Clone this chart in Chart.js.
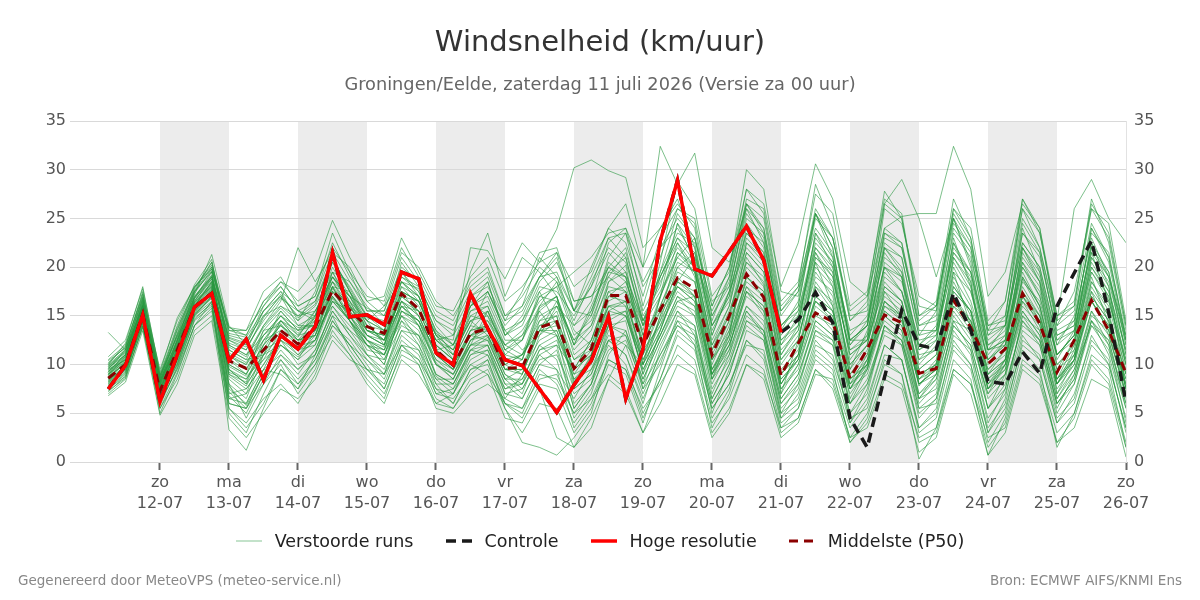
<!DOCTYPE html>
<html><head><meta charset="utf-8">
<script src="https://cdn.jsdelivr.net/npm/chart.js@4.4.1/dist/chart.umd.min.js"></script>
<style>
html,body{margin:0;padding:0;background:#fff;}
#wrap{position:relative;width:1200px;height:600px;overflow:hidden;}
#c{position:absolute;left:0;top:0;}
.foot{position:absolute;top:572px;line-height:16px;font-family:'DejaVu Sans',sans-serif;font-size:13.5px;color:#888;white-space:nowrap;}
#legend{position:absolute;left:0;top:530px;width:1200px;height:22px;display:flex;justify-content:center;align-items:center;font-family:'DejaVu Sans',sans-serif;font-size:17.5px;color:#222;white-space:nowrap;}
#legend .item{display:flex;align-items:center;margin:0 16px;}
#legend svg{margin-right:13px;display:block;}
</style></head><body>
<div id="wrap"><canvas id="c" width="1200" height="600"></canvas>
<div id="legend"></div>
<div class="foot" style="left:18px">Gegenereerd door MeteoVPS (meteo-service.nl)</div>
<div class="foot" style="right:18px">Bron: ECMWF AIFS/KNMI Ens</div>
</div>
<script>
// hours relative to zo 12-07 00:00
const hours = [-18,-12,-6,0,6,12,18,24,30,36,42,48,54,60,66,72,78,84,90,96,102,108,114,120,126,132,138,144,150,156,162,168,174,180,186,192,198,204,210,216,222,228,234,240,246,252,258,264,270,276,282,288,294,300,306,312,318,324,330,336];
const tickHours = [0,24,48,72,96,120,144,168,192,216,240,264,288,312,336];
const dayNames = ['zo','ma','di','wo','do','vr','za','zo','ma','di','wo','do','vr','za','zo'];
const dayDates = ['12-07','13-07','14-07','15-07','16-07','17-07','18-07','19-07','20-07','21-07','22-07','23-07','24-07','25-07','26-07'];
const shadedDayStarts = [0,48,96,144,192,240,288];

const hogeResolutie = [7.5,9.9,15.1,6.2, 11.0,15.9,17.3,10.4, 12.6,8.4,13.0,11.6, 13.9,21.5,14.9,15.1, 14.1,19.5,18.8,11.2, 10.0,17.3,13.7,10.5, 9.9,7.5,5.1,7.9, 10.4,14.9,6.5,11.6, 22.7,28.9,19.8,19.1, 21.6,24.2,20.7,13.3];
const controle = [7.5,9.9,15.1,6.2, 11.0,15.9,17.3,10.4, 12.6,8.4,13.0,11.6, 13.9,21.5,14.9,15.1, 14.1,19.5,18.8,11.2, 10.0,17.3,13.7,10.5, 9.9,7.5,5.1,7.9, 10.4,14.9,6.5,11.6, 22.7,28.9,19.8,19.1, 21.6,24.2,20.7,13.3, 14.6,17.4,14.3,4.5, 1.5,8.7,15.6,12.0, 11.6,17.3,13.5,8.3, 8.0,11.3,9.1,16.0, 19.4,22.7,15.3,6.1];
const middelste = [8.6,10.0,15.1,7.3, 11.5,15.9,17.3,10.4, 9.6,11.5,13.5,12.1, 13.9,17.6,15.6,13.9, 13.2,17.3,15.7,11.5, 9.9,13.2,13.7,9.6, 9.7,13.8,14.4,9.6, 11.6,17.1,17.1,12.0, 15.6,18.9,17.8,11.0, 15.0,19.3,16.9,8.9, 12.2,15.3,14.4,8.6, 11.6,15.1,14.3,9.1, 9.6,16.6,13.8,10.1, 11.6,17.3,14.2,9.2, 12.5,16.6,13.5,9.1];

const run01 = [9.2,11.0,16.5,7.8, 12.0,16.8,19.5,9.0, 8.2,12.5,15.0,13.2, 14.8,19.0,16.2,12.5, 11.8,16.5,14.0,10.2, 8.5,12.0,15.5,11.0, 10.5,15.8,17.0,8.2, 10.8,18.5,20.2,11.5, 16.8,22.5,19.0,8.5, 13.0,21.0,18.2,7.0, 12.5,20.5,16.0,6.5, 9.8,17.5,15.0,7.8, 10.2,19.5,14.0,5.5, 9.0,18.8,15.5,8.0, 11.5,19.0,14.2,6.8];
const run02 = [8.0,9.5,14.5,6.5, 10.8,15.5,17.8,6.0, 5.5,9.0,12.0,10.8, 12.5,16.8,14.5,11.0, 10.5,15.0,13.5,8.8, 7.5,11.5,12.8,8.5, 7.0,11.5,12.0,5.5, 8.0,13.5,15.0,9.5, 13.0,17.0,16.0,7.5, 10.5,15.5,13.0,5.0, 8.0,13.0,12.0,4.0, 7.5,14.0,12.5,5.5, 6.0,13.5,11.0,3.0, 6.5,15.0,12.5,6.0, 8.5,14.5,11.0,4.5];
const run03 = [10.2,11.8,17.5,8.5, 13.5,17.5,20.0,12.5, 11.8,14.5,16.8,15.5, 16.5,21.0,17.5,14.5, 13.5,18.0,17.0,13.0, 12.5,22.0,21.7,18.8, 22.5,20.5,23.9,30.2, 31.0,29.9,29.2,22.0, 24.0,26.5,24.0,14.0, 17.5,22.0,20.0,12.0, 15.0,21.5,18.0,9.5, 13.5,20.0,17.5,12.0, 14.0,22.5,18.5,10.0, 12.5,20.5,17.0,11.0, 13.0,20.0,17.0,9.0];
const run04 = [9.5,10.5,15.8,8.0, 11.8,16.0,18.5,10.8, 10.0,13.5,14.0,12.8, 15.5,18.5,17.0,15.8, 15.0,19.5,17.5,13.5, 11.0,14.5,15.0,12.0, 13.5,16.5,18.0,19.5, 21.0,23.5,24.0,20.0, 32.4,28.5,31.7,22.0, 20.5,26.0,22.5,14.0, 15.5,22.0,19.5,11.0, 12.5,18.0,16.5,9.5, 11.0,18.5,15.0,8.0, 10.5,19.0,16.0,8.5, 12.0,21.5,16.5,10.0];
const run05 = [7.0,8.5,14.0,5.0, 9.0,14.0,16.5,3.3, 1.2,5.5,9.5,7.5, 10.0,14.5,12.0,9.5, 8.0,12.5,11.0,7.0, 6.5,9.0,10.5,6.0, 4.5,8.0,7.5,3.0, 5.5,10.0,9.0,4.0, 9.5,14.5,12.0,5.5, 8.0,12.0,11.5,4.0, 5.5,10.5,9.0,3.5, 6.0,12.0,10.5,3.0, 4.5,11.5,9.5,2.0, 5.0,12.5,11.0,4.5, 6.5,13.0,10.0,3.5];
const run06 = [8.8,10.2,15.2,7.0, 11.2,16.2,18.2,11.5, 10.5,11.0,14.2,12.0, 13.0,17.8,15.8,14.0, 12.5,17.0,15.5,11.5, 10.0,13.5,14.0,10.0, 9.0,14.5,15.0,9.5, 12.5,17.5,18.0,12.5, 15.5,19.5,18.5,10.5, 14.5,19.0,17.0,9.0, 12.0,16.5,15.0,8.0, 11.0,16.5,14.5,8.5, 9.5,17.0,14.5,9.5, 11.5,17.5,14.5,9.0, 12.5,16.5,13.5,8.5];
const run07 = [9.8,11.2,16.0,8.8, 13.0,17.2,21.3,14.0, 12.0,15.5,17.5,14.5, 16.0,19.5,18.5,16.0, 14.0,20.5,18.0,14.5, 13.0,16.0,17.5,13.5, 11.5,13.0,16.0,14.0, 16.5,22.5,24.0,18.0, 21.0,26.0,25.0,16.5, 18.0,25.5,23.0,13.5, 16.5,25.5,22.0,12.0, 14.5,22.0,21.0,13.0, 15.5,25.0,20.5,11.5, 14.0,24.0,19.5,12.0, 15.0,23.0,19.0,12.5];
const run08 = [7.5,9.0,14.8,6.0, 10.5,15.0,17.0,8.0, 4.5,8.0,11.0,9.0, 11.5,15.5,13.0,10.5, 9.0,14.5,12.0,7.5, 7.0,10.5,11.5,7.5, 8.5,12.0,10.5,4.5, 7.0,12.5,11.0,6.0, 11.5,15.5,14.0,5.0, 9.5,14.0,12.5,4.5, 7.0,12.5,10.5,5.0, 8.0,13.0,12.0,4.5, 6.5,14.5,11.5,4.0, 7.5,14.5,12.0,5.5, 9.0,15.5,12.0,4.0];
const run09 = [10.5,12.0,17.0,9.5, 14.5,18.0,19.8,13.5, 13.0,16.5,18.5,16.5, 18.0,22.0,19.5,17.0, 16.5,22.0,19.0,15.5, 14.5,18.5,20.0,15.0, 16.0,19.0,21.5,18.0, 19.5,24.0,26.5,20.0, 24.0,27.0,22.0,14.5, 19.0,28.0,25.5,16.0, 18.0,28.5,24.0,14.5, 16.0,26.5,25.0,15.0, 16.5,27.0,23.0,13.0, 15.0,26.0,22.0,14.5, 16.0,27.0,22.5,13.5];
const run10 = [8.2,9.8,15.5,7.5, 11.0,15.8,17.5,7.0, 7.5,10.0,12.5,11.5, 12.0,17.5,15.0,12.5, 11.5,16.0,14.5,10.0, 9.0,12.5,13.0,9.0, 8.0,13.0,14.5,8.0, 11.0,16.5,17.5,10.0, 15.0,18.5,17.5,9.5, 12.0,17.5,16.0,7.5, 10.0,15.0,14.0,6.0, 9.5,15.5,14.0,7.0, 8.5,16.0,13.5,6.5, 8.5,16.5,13.5,7.5, 10.0,17.5,13.0,7.0];
const run11 = [9.0,10.8,16.2,7.2, 12.5,16.5,19.0,10.0, 9.0,12.0,15.5,13.5, 14.0,19.5,16.5,13.0, 12.0,18.0,16.0,12.0, 10.5,15.5,16.5,12.5, 12.5,17.5,19.0,14.0, 15.5,20.0,22.0,15.0, 18.0,24.5,20.5,12.0, 16.0,23.0,21.0,11.0, 14.0,23.5,20.0,10.5, 13.0,21.5,19.0,10.0, 12.0,23.0,18.0,9.0, 11.5,22.0,18.5,10.5, 13.5,22.5,18.0,10.0];
const run12 = [7.8,9.2,14.2,5.8, 9.8,14.5,16.0,5.0, 3.0,7.0,10.5,8.5, 10.5,14.0,12.5,10.0, 7.5,12.0,10.5,6.5, 5.5,8.5,9.5,5.5, 3.0,6.0,5.5,1.5, 4.5,8.5,7.0,3.0, 7.5,12.0,10.5,4.0, 6.5,11.0,9.5,3.0, 4.5,9.5,7.5,2.0, 4.0,9.0,8.0,2.5, 3.5,9.5,8.0,1.5, 4.0,10.5,9.0,3.0, 5.0,10.5,8.5,2.0];
const run13 = [9.5,11.5,16.8,8.2, 13.2,17.8,20.5,13.0, 12.5,15.0,16.0,14.5, 17.5,23.5,19.5,15.5, 15.5,21.0,18.5,14.0, 12.0,17.0,18.0,14.5, 17.5,21.5,22.0,16.5, 17.0,19.0,17.5,13.5, 20.5,28.8,26.0,17.0, 19.5,30.0,28.0,17.5, 17.0,25.5,21.0,12.5, 14.0,26.0,24.5,17.0, 16.0,25.0,20.0,12.0, 13.5,24.5,21.5,13.0, 14.0,24.0,20.5,12.0];
const run14 = [8.5,9.5,14.0,6.8, 10.0,15.2,16.8,9.5, 8.5,11.0,12.0,10.5, 13.5,16.0,14.0,12.0, 10.0,15.5,14.0,9.0, 8.0,11.0,12.0,8.0, 6.5,10.0,9.5,6.5, 9.5,14.0,13.5,8.5, 12.5,16.0,15.0,7.0, 11.0,16.0,14.0,6.5, 9.0,14.0,12.5,7.5, 10.5,14.5,13.0,6.0, 8.0,15.0,12.5,7.0, 10.0,15.5,13.0,6.5, 9.5,14.0,12.5,6.0];
const run15 = [9.0,10.5,15.5,7.8, 11.5,16.0,18.0,7.5, 6.0,9.5,13.0,11.0, 12.5,17.0,14.5,11.5, 11.0,14.5,13.0,8.0, 6.0,9.5,10.5,5.5, 2.0,1.5,0.7,2.5, 5.0,11.0,13.5,8.0, 13.5,18.5,17.0,9.0, 12.5,18.0,16.5,8.0, 10.5,17.0,15.5,7.5, 10.0,16.0,15.0,6.5, 9.0,17.5,15.5,8.5, 10.5,17.0,14.0,8.0, 11.0,18.0,15.0,7.5];
const run16 = [10.0,12.2,18.0,9.0, 14.0,18.2,20.8,11.0, 9.5,13.0,15.0,13.0, 15.0,20.0,17.0,13.5, 13.0,17.5,16.5,12.5, 11.5,16.5,15.0,10.5, 10.0,13.5,16.5,12.0, 14.0,19.5,21.0,14.5, 17.5,21.0,19.5,11.5, 15.5,20.5,18.5,10.5, 13.0,19.0,17.5,10.0, 12.0,19.5,17.5,11.0, 11.5,20.0,16.5,10.5, 12.0,19.5,16.0,9.5, 12.5,19.5,16.5,10.5];
const run17 = [7.2,8.8,13.8,6.2, 9.5,14.0,15.5,6.5, 7.0,9.5,9.0,7.5, 11.0,15.0,11.5,9.0, 7.0,11.0,10.0,5.5, 5.0,7.0,8.0,6.5, 9.0,13.5,13.0,6.0, 8.0,12.0,10.0,5.0, 8.5,13.0,11.5,4.5, 7.5,13.5,12.5,5.0, 6.5,12.0,11.0,4.5, 5.5,11.0,10.5,3.5, 5.0,12.5,10.0,3.5, 6.0,13.0,10.5,4.0, 7.0,12.5,10.5,3.0];
const run18 = [9.7,11.0,15.8,8.6, 12.8,17.0,19.2,12.0, 11.0,14.0,16.0,15.0, 16.5,20.5,18.0,15.0, 14.5,19.0,18.0,14.5, 13.5,17.0,18.5,13.0, 14.0,18.0,17.5,15.0, 18.0,21.5,19.5,14.0, 19.5,23.5,22.5,13.5, 17.0,24.5,22.0,13.0, 15.5,23.0,20.5,13.5, 14.5,23.5,22.0,14.0, 15.0,24.5,22.0,13.5, 14.0,22.5,20.0,12.5, 14.5,21.5,19.0,13.0];
const run19 = [8.3,10.0,15.0,7.0, 11.0,15.5,17.0,9.8, 8.8,10.5,13.5,12.5, 13.0,18.0,16.0,14.5, 13.5,16.5,15.0,11.0, 9.5,13.0,14.0,9.5, 9.5,14.0,14.5,10.5, 12.0,17.0,16.5,11.0, 15.5,18.0,16.5,9.0, 13.5,18.5,17.0,9.5, 11.5,18.0,15.5,9.0, 11.5,17.0,15.5,9.0, 10.0,17.5,15.5,9.0, 10.5,18.0,15.0,9.5, 11.0,17.0,14.5,9.0];
const run20 = [9.3,10.5,16.0,8.0, 12.2,16.5,18.8,12.5, 11.5,15.0,17.0,14.0, 15.0,21.0,17.5,13.5, 12.5,18.5,17.0,12.0, 10.5,14.0,17.5,14.0, 16.0,21.0,19.0,15.5, 20.0,24.0,22.5,17.0, 23.0,26.0,24.5,15.0, 18.0,26.0,24.0,14.0, 16.0,25.5,23.0,15.5, 17.0,27.8,25.0,16.0, 15.5,26.0,23.0,14.0, 14.5,27.0,23.5,15.0, 16.0,26.0,23.0,14.0];
const run21 = [7.5,8.8,14.5,5.5, 8.5,13.5,15.0,5.5, 4.0,6.5,8.0,6.0, 9.0,13.5,11.0,8.0, 6.0,10.5,9.0,6.0, 7.0,11.0,11.5,7.0, 6.5,10.0,11.5,5.5, 8.0,14.0,14.5,7.5, 12.0,15.5,13.0,6.0, 9.0,14.5,13.0,5.5, 7.5,13.5,12.5,5.0, 7.0,14.0,12.0,5.0, 6.5,13.0,11.5,4.5, 7.0,13.5,12.0,5.0, 8.0,14.0,11.5,5.5];
const run22 = [10.8,12.5,17.8,9.2, 14.8,18.0,20.2,13.8, 13.5,17.5,19.0,16.0, 17.0,22.5,19.0,16.5, 17.0,23.0,19.5,16.0, 15.5,19.0,21.0,16.5, 18.0,20.5,21.5,15.5, 15.0,21.0,23.5,18.5, 22.0,24.0,21.0,13.0, 17.5,23.5,21.5,12.5, 14.5,22.0,20.0,12.0, 14.0,21.0,19.5,12.0, 13.5,21.5,19.0,11.0, 13.0,21.0,18.5,12.0, 13.5,21.0,18.5,11.5];
const run23 = [8.6,10.3,15.3,7.5, 11.5,16.0,17.6,8.5, 7.0,11.5,12.5,11.0, 13.0,16.5,14.5,12.5, 10.5,14.0,13.0,10.0, 9.0,12.0,12.5,8.5, 9.5,12.5,13.5,9.0, 10.0,15.5,16.5,10.5, 14.0,17.5,16.0,9.0, 12.0,17.0,15.5,8.0, 11.0,16.5,14.5,8.5, 10.0,15.5,14.0,8.5, 10.0,16.5,14.0,8.0, 9.5,16.0,14.0,8.5, 10.5,16.5,13.5,8.0];
const run24 = [9.1,10.6,15.6,8.2, 12.0,16.0,18.5,10.5, 9.5,12.5,14.5,12.5, 14.5,17.0,15.0,13.0, 12.0,17.5,16.5,12.0, 10.5,14.0,13.5,9.5, 10.5,15.0,16.0,11.5, 13.5,18.5,19.5,13.0, 16.0,20.0,18.5,10.0, 14.0,20.0,18.0,10.0, 12.5,19.5,17.0,9.5, 12.0,18.5,16.5,9.5, 11.0,19.0,16.0,9.5, 11.0,18.5,16.5,10.0, 11.5,18.5,16.0,9.5];
const run25 = [6.8,8.2,13.5,4.8, 8.0,13.0,14.5,4.5, 2.5,5.0,7.5,6.5, 8.5,12.5,10.5,9.5, 9.0,12.0,10.0,6.0, 5.5,8.0,9.0,6.0, 5.5,9.5,8.0,4.0, 6.5,9.0,7.5,3.0, 6.0,10.0,9.0,2.5, 5.0,10.0,8.5,2.5, 4.0,9.0,8.5,2.5, 3.5,8.5,7.5,1.0, 2.5,9.0,7.0,0.7, 3.0,9.5,8.0,2.0, 3.5,8.5,7.5,0.5];
const run26 = [9.9,11.3,16.6,8.0, 12.5,17.0,19.0,12.0, 11.0,13.0,14.5,13.5, 15.5,19.0,16.5,14.5, 16.0,18.5,17.0,13.0, 11.5,15.0,14.5,11.0, 12.5,16.0,18.5,13.5, 12.0,16.0,15.0,10.5, 14.5,20.0,21.5,14.0, 16.5,23.5,21.5,12.0, 14.0,21.5,19.0,11.0, 12.5,20.0,19.0,11.5, 12.5,21.0,18.0,10.5, 12.5,20.5,18.0,11.0, 13.0,20.5,17.5,10.5];
const run27 = [8.0,9.6,14.6,6.6, 10.2,15.0,16.5,6.5, 6.0,9.5,11.0,9.5, 11.0,15.0,13.5,12.0, 11.0,15.0,12.5,8.5, 8.5,12.5,14.0,10.0, 11.0,14.0,15.0,7.5, 9.0,13.0,12.0,7.0, 11.0,14.5,13.5,6.5, 10.0,15.0,13.5,6.0, 8.0,13.5,12.0,6.0, 8.5,13.5,12.5,6.5, 7.5,14.0,12.0,5.5, 8.0,14.0,12.5,6.0, 8.5,14.5,12.5,5.5];
const run28 = [10.0,11.5,16.0,8.4, 12.5,17.5,19.5,11.5, 10.5,14.0,16.5,22.0, 18.5,21.5,20.0,16.5, 15.0,19.0,17.5,13.5, 12.0,16.0,17.0,13.0, 14.5,18.5,20.5,16.5, 17.0,20.0,19.0,14.5, 18.5,22.0,20.0,11.5, 15.0,21.5,19.5,11.5, 13.5,20.5,18.5,11.5, 12.5,20.0,18.5,12.5, 13.0,20.5,17.5,11.5, 12.5,20.0,17.5,11.0, 12.5,20.0,17.5,11.5];
const run29 = [8.4,9.9,14.9,7.2, 11.3,15.5,17.3,8.8, 7.5,10.0,13.0,11.8, 12.5,17.0,14.5,12.0, 10.0,15.5,14.5,11.0, 9.5,12.0,12.0,8.0, 8.0,11.5,12.5,7.5, 9.0,14.5,15.5,9.0, 13.0,17.0,15.0,8.0, 11.5,16.0,14.5,7.5, 9.5,15.5,13.5,7.5, 9.0,15.0,13.5,7.0, 9.0,15.5,13.0,7.0, 9.0,15.5,13.0,7.0, 9.5,15.5,13.0,7.0];
const run30 = [9.4,10.9,16.3,8.9, 12.9,16.8,18.8,12.8, 12.2,16.0,18.0,15.5, 14.5,18.5,16.0,13.5, 13.0,16.0,14.5,11.5, 10.0,13.0,14.5,12.0, 13.0,17.0,16.5,12.5, 15.0,19.5,19.0,12.0, 16.0,20.5,19.5,11.0, 14.5,21.5,19.5,11.0, 13.5,21.0,19.0,11.5, 13.0,22.0,19.5,10.5, 12.5,22.5,19.5,11.5, 12.0,22.0,19.0,11.0, 13.0,22.5,19.5,11.0];
const run31 = [8.9,10.4,15.4,7.6, 11.6,16.4,18.0,9.5, 8.0,12.0,14.0,12.0, 14.0,18.5,15.5,13.0, 12.5,16.0,14.0,10.5, 9.5,13.0,13.5,10.0, 11.0,14.5,16.0,12.5, 14.0,18.0,17.5,12.0, 17.0,21.0,23.0,16.0, 20.0,28.0,26.5,18.0, 22.5,30.6,27.0,18.5, 17.0,24.0,25.2,25.5, 25.5,32.4,28.0,17.0, 19.5,26.5,24.0,14.0, 17.5,26.0,24.5,14.5];
const run32 = [9.6,11.4,16.9,8.3, 12.6,17.3,19.8,12.2, 11.5,14.8,17.2,14.8, 16.2,20.8,17.8,14.8, 14.2,18.5,17.8,13.2, 12.0,15.5,16.0,11.5, 12.5,17.0,18.0,13.0, 14.5,19.0,21.5,15.5, 19.0,22.5,20.0,12.5, 16.0,24.0,22.5,14.0, 16.0,25.0,23.0,14.5, 16.5,26.5,29.0,25.0, 19.0,25.0,22.0,13.5, 16.5,26.0,23.5,14.5, 26.0,29.0,25.0,22.5];
const run33 = [7.9,9.3,14.3,6.4, 10.0,14.8,16.2,6.8, 5.0,8.5,10.5,8.0, 10.5,14.5,12.0,10.5, 8.5,13.0,11.5,7.0, 7.5,10.0,11.0,7.5, 8.0,11.0,9.5,3.5, 6.0,10.5,9.5,4.5, 8.5,13.5,12.0,3.5, 7.0,12.5,10.5,3.5, 5.5,11.0,9.5,2.0, 4.5,10.5,9.0,0.3, 3.5,10.5,8.5,0.7, 4.5,11.5,9.5,1.5, 5.0,11.0,9.5,1.5];
const run34 = [10.4,11.7,17.2,8.7, 13.8,17.6,20.5,13.5, 13.5,16.0,18.5,17.5, 19.7,24.8,21.0,18.0, 16.0,21.5,20.0,16.5, 15.0,18.0,19.5,15.0, 17.0,20.0,18.5,14.5, 18.5,22.0,20.5,14.5, 19.0,23.0,21.5,14.0, 17.0,25.0,23.5,15.0, 17.5,26.0,23.0,15.0, 15.5,24.0,22.5,14.5, 16.0,25.5,22.5,14.0, 15.0,25.0,22.0,14.0, 15.5,24.5,21.0,13.0];
const run35 = [8.1,9.7,15.0,7.1, 11.0,15.2,17.0,9.5, 8.0,10.5,12.0,10.5, 12.0,16.5,15.5,13.5, 13.0,17.0,16.5,12.5, 11.0,14.5,15.5,11.5, 13.0,15.5,13.0,8.5, 9.5,12.5,11.0,6.5, 10.5,14.0,13.0,6.0, 9.0,14.5,13.5,6.5, 9.0,14.5,13.0,7.0, 9.5,15.0,13.5,6.5, 8.5,14.5,13.5,7.5, 9.0,15.0,13.5,6.5, 9.0,15.0,13.5,6.5];
const run36 = [9.2,11.1,16.4,8.1, 12.4,16.6,18.6,11.0, 10.0,12.5,13.5,12.0, 15.0,18.0,14.5,12.0, 11.0,16.0,15.5,11.5, 12.0,16.0,18.5,13.0, 15.0,19.0,21.0,15.5, 18.0,23.0,21.0,14.0, 17.0,21.5,19.5,10.5, 13.5,20.5,19.0,10.5, 12.5,20.0,18.0,10.0, 12.0,19.0,17.5,10.5, 11.5,19.5,17.5,10.5, 12.0,20.0,17.0,10.0, 12.0,19.5,17.0,10.0];
const run37 = [7.3,8.6,13.9,5.5, 9.2,14.0,15.8,6.0, 5.5,8.0,10.0,7.0, 9.5,14.0,12.0,9.5, 7.5,12.0,11.5,8.0, 8.0,11.5,11.0,6.5, 5.5,8.5,9.0,5.0, 7.5,11.5,12.5,8.0, 11.0,14.0,12.5,5.5, 8.0,12.5,11.0,4.5, 6.0,11.5,10.0,4.0, 6.5,12.0,10.5,3.5, 5.5,12.0,10.0,3.0, 5.5,12.0,10.5,4.0, 6.0,12.0,10.0,3.5];
const run38 = [13.3,11.5,15.9,7.4, 11.8,16.8,19.0,10.5, 9.0,13.5,15.5,13.5, 14.5,19.5,16.0,13.0, 12.0,17.5,15.0,11.0, 10.0,13.5,14.0,10.5, 11.0,13.5,15.5,10.5, 11.5,16.0,16.5,11.0, 14.5,18.0,17.0,9.5, 12.5,19.0,17.5,9.0, 11.0,18.0,16.5,9.0, 11.0,17.5,16.0,8.5, 10.5,18.0,15.5,9.0, 10.5,17.5,15.0,8.5, 11.0,17.5,15.0,9.0];
const run39 = [8.7,10.1,15.1,7.7, 11.4,15.9,17.9,9.2, 8.5,11.5,14.5,12.5, 13.5,17.5,15.0,12.5, 11.5,15.0,14.0,10.0, 8.5,12.0,13.0,9.5, 9.0,13.5,13.5,8.5, 10.5,14.0,13.0,8.5, 12.5,16.5,17.0,10.5, 13.0,18.0,15.5,8.5, 10.5,16.5,15.0,8.5, 10.5,16.0,14.5,8.0, 9.5,16.0,14.5,8.5, 10.0,16.5,14.5,8.0, 10.5,16.5,14.0,8.5];
const run40 = [9.0,10.7,16.1,7.9, 12.1,16.3,18.3,11.8, 10.8,13.8,15.8,14.0, 14.0,18.0,17.5,15.0, 13.5,19.5,17.0,13.0, 11.5,14.5,13.0,9.0, 7.5,11.0,12.0,9.5, 12.5,17.0,18.5,14.0, 19.5,25.5,23.0,16.0, 20.0,26.5,24.0,15.5, 17.5,24.0,21.5,13.0, 15.0,23.0,22.0,14.0, 14.5,23.5,21.0,13.0, 14.0,23.5,21.0,13.5, 14.5,23.5,21.5,12.5];
const run41 = [9.3,10.8,15.7,7.3, 11.7,16.1,18.1,8.0, 6.5,11.0,14.5,13.0, 13.5,18.0,15.0,12.0, 11.5,16.5,15.5,12.5, 13.0,19.5,23.5,17.0, 21.0,19.5,17.0,12.0, 15.5,20.5,19.0,11.5, 14.0,19.0,17.0,9.0, 11.5,19.0,17.5,8.0, 11.0,18.5,16.0,7.5, 10.5,18.0,16.5,9.0, 10.0,18.0,15.5,7.5, 10.5,19.0,16.0,8.5, 10.5,18.5,15.5,7.5];
const run42 = [8.2,9.4,14.7,6.9, 10.6,15.3,17.4,7.8, 5.8,9.0,12.5,10.0, 11.0,16.0,13.5,11.0, 9.5,13.5,12.0,8.5, 7.0,10.0,9.0,4.5, 4.0,7.5,2.5,1.5, 3.5,8.5,12.0,10.0, 17.0,24.5,22.0,13.0, 17.5,26.5,25.0,15.5, 18.0,25.5,22.0,12.5, 14.0,23.5,22.5,13.5, 13.5,24.0,21.5,12.0, 13.0,23.5,21.5,13.0, 14.0,24.0,21.0,12.5];
const run43 = [9.6,11.0,16.1,8.4, 12.3,16.9,19.1,12.7, 12.0,15.5,17.0,15.0, 15.5,19.0,17.0,14.0, 13.5,18.5,16.5,12.5, 11.0,16.0,17.5,13.5, 14.5,17.5,14.0,9.5, 11.0,15.0,15.5,10.0, 13.5,18.5,21.0,15.5, 19.0,26.5,23.5,13.5, 15.0,22.5,20.5,12.5, 14.0,22.5,21.0,13.0, 13.5,21.5,19.5,12.5, 14.0,22.5,20.0,12.5, 13.5,22.0,19.5,12.0];
const run44 = [7.6,9.1,14.4,6.1, 9.6,14.6,16.4,5.5, 3.5,6.0,9.5,8.0, 10.0,13.0,11.0,8.5, 6.5,11.5,10.5,7.5, 6.0,9.5,10.0,6.0, 5.0,9.0,8.5,5.0, 6.5,10.5,9.5,5.5, 8.0,11.0,9.5,3.0, 5.5,10.0,9.0,3.5, 4.5,9.5,8.0,2.5, 5.0,10.0,9.0,2.0, 3.0,9.5,8.0,2.5, 3.5,10.0,8.5,2.0, 4.5,10.0,8.0,1.5];
const run45 = [9.0,10.3,15.7,8.3, 11.9,16.4,18.4,11.2, 10.2,13.0,15.0,13.8, 14.0,19.0,17.0,14.5, 12.0,16.5,15.0,11.0, 9.5,13.5,15.5,11.5, 10.5,15.5,17.0,12.0, 16.0,20.0,18.5,13.0, 19.0,23.0,20.5,12.0, 15.0,22.5,21.0,12.5, 14.0,23.5,21.0,12.5, 12.5,22.0,20.0,11.5, 13.0,22.0,19.5,11.5, 12.5,22.0,19.5,11.0, 13.0,22.0,19.0,11.0];
const run46 = [8.3,9.7,14.8,6.7, 10.4,15.1,16.9,7.2, 5.5,9.0,11.5,9.5, 11.5,15.5,13.0,11.0, 9.0,13.5,13.0,9.0, 8.0,11.5,12.0,7.0, 7.5,10.5,11.0,7.0, 8.5,12.5,13.0,7.5, 10.0,15.0,14.0,6.5, 10.0,15.5,13.5,6.0, 8.5,14.5,13.0,6.0, 8.0,14.0,12.5,5.5, 7.0,14.0,12.0,5.5, 7.5,14.5,12.5,6.0, 8.0,14.5,12.0,6.0];
const run47 = [10.1,11.9,17.3,8.9, 13.6,17.9,20.0,13.2, 12.8,15.5,17.5,16.0, 17.0,21.5,18.5,15.5, 15.5,20.0,18.5,15.0, 14.0,17.5,19.0,14.5, 15.5,19.0,19.5,15.5, 19.0,23.0,23.5,16.0, 22.0,25.0,23.0,15.0, 18.5,27.0,26.0,16.5, 18.5,27.5,25.5,16.0, 17.5,27.0,25.5,15.0, 16.0,26.0,24.0,14.5, 16.5,27.0,24.0,15.0, 16.5,26.5,23.5,14.0];
const run48 = [8.8,10.1,15.4,7.4, 11.1,15.7,17.7,10.0, 9.0,12.0,14.0,12.5, 13.0,17.5,16.5,13.5, 12.5,17.0,15.5,11.5, 10.0,13.0,12.5,8.5, 8.5,12.0,13.0,9.0, 11.5,15.5,15.0,9.5, 13.0,16.5,15.5,8.5, 11.0,17.5,15.0,7.0, 10.0,16.0,14.5,8.0, 9.5,16.5,15.0,8.0, 9.0,17.0,14.0,7.5, 9.5,17.0,14.5,8.0, 10.0,16.5,14.0,7.5];
const run49 = [9.8,11.6,16.7,8.6, 13.1,17.5,19.6,13.8, 13.0,16.5,18.0,15.5, 15.0,20.5,17.5,14.0, 12.5,17.5,16.5,13.0, 10.5,15.0,16.0,12.0, 11.0,16.0,17.0,11.0, 12.5,17.5,16.0,9.0, 15.0,21.5,20.0,9.5, 13.0,22.5,20.5,9.0, 11.0,21.0,19.5,8.5, 10.0,20.5,19.0,8.0, 9.5,21.0,18.5,7.5, 10.0,21.5,18.5,7.0, 10.5,21.0,18.0,7.5];
const run50 = [8.5,10.2,15.2,7.0, 11.3,15.7,17.5,9.0, 7.8,11.0,13.0,11.5, 12.5,16.5,14.5,12.5, 11.0,15.5,14.5,10.5, 9.0,12.5,13.5,9.5, 9.5,13.5,14.0,9.5, 11.0,16.0,16.0,10.0, 13.5,18.0,16.5,8.5, 12.0,17.5,16.0,8.5, 10.5,17.0,15.5,8.0, 10.0,16.5,15.0,8.0, 9.5,16.5,14.5,8.0, 10.0,17.0,15.0,8.0, 10.5,17.0,14.5,8.0];

const verstoordeRuns = [run01,run02,run03,run04,run05,run06,run07,run08,run09,run10,run11,run12,run13,run14,run15,run16,run17,run18,run19,run20,run21,run22,run23,run24,run25,run26,run27,run28,run29,run30,run31,run32,run33,run34,run35,run36,run37,run38,run39,run40,run41,run42,run43,run44,run45,run46,run47,run48,run49,run50];

const toPoints = vals => vals.map((v, i) => ({x: hours[i], y: v}));

Chart.defaults.font.family = "'DejaVu Sans', sans-serif";
Chart.defaults.color = '#555';

const runColor = 'rgba(38,150,62,0.6)';
const datasets = [
  {label:'Hoge resolutie', data: toPoints(hogeResolutie), borderColor:'#ff0000', backgroundColor:'#ff0000', borderWidth:3.5, order:0},
  {label:'Controle', data: toPoints(controle), borderColor:'#1a1a1a', backgroundColor:'#1a1a1a', borderWidth:3.5, borderDash:[10,6], order:1},
  {label:'Middelste (P50)', data: toPoints(middelste), borderColor:'#8b0000', backgroundColor:'#8b0000', borderWidth:3, borderDash:[9,6], order:2}
];
verstoordeRuns.forEach(r => datasets.push({label:'Verstoorde runs', data: toPoints(r), borderColor: runColor, backgroundColor: runColor, borderWidth:1, order:3}));

// HTML legend built from the datasets
const legendOrder = [3, 1, 0, 2];
const legendEl = document.getElementById('legend');
legendOrder.forEach(di => {
  const ds = datasets[di];
  const item = document.createElement('div');
  item.className = 'item';
  const dash = ds.borderDash ? ds.borderDash.join(',') : 'none';
  const col = di === 3 ? 'rgba(38,150,62,0.55)' : ds.borderColor;
  item.innerHTML = '<svg width="26" height="10"><line x1="0" y1="5" x2="26" y2="5" stroke="' + col + '" stroke-width="' + ds.borderWidth + '" stroke-dasharray="' + dash + '"/></svg>';
  const span = document.createElement('span');
  span.textContent = ds.label;
  item.appendChild(span);
  legendEl.appendChild(item);
});

const shadePlugin = {
  id: 'shade',
  beforeDraw(chart) {
    const {ctx, chartArea: a, scales: {x}} = chart;
    ctx.save();
    ctx.fillStyle = '#ececec';
    shadedDayStarts.forEach(h => {
      const x0 = x.getPixelForValue(h), x1 = x.getPixelForValue(h + 24);
      ctx.fillRect(x0, a.top, x1 - x0, a.bottom - a.top);
    });
    ctx.restore();
  }
};

new Chart(document.getElementById('c'), {
  type: 'line',
  data: { datasets },
  plugins: [shadePlugin],
  options: {
    responsive: false,
    animation: false,
    elements: { point: { radius: 0 }, line: { tension: 0 } },
    layout: { padding: { left: 0, right: 0, top: 0, bottom: 82 } },
    plugins: {
      tooltip: { enabled: false },
      legend: { display: false },
      title: { display: true, text: 'Windsnelheid (km/uur)', color: '#333', font: { size: 29, weight: 'normal' }, padding: { top: 25.6, bottom: 14 } },
      subtitle: { display: true, text: 'Groningen/Eelde, zaterdag 11 juli 2026 (Versie za 00 uur)', color: '#666', font: { size: 17.75, weight: 'normal' }, padding: { top: 0, bottom: 25.3 } }
    },
    scales: {
      x: {
        type: 'linear', min: -31.3, max: 336,
        afterBuildTicks: s => { s.ticks = tickHours.map(v => ({ value: v })); },
        afterFit: s => { s.height = 56; },
        grid: { drawOnChartArea: false, drawTicks: true, tickLength: 8, tickColor: '#666', tickWidth: 2 },
        border: { display: false },
        ticks: { autoSkip: false, maxRotation: 0, padding: 3, color: '#555', font: { size: 16, lineHeight: 1.275 },
          callback: (v, i) => [dayNames[i], dayDates[i]] }
      },
      y: {
        position: 'left', min: 0, max: 35,
        afterFit: s => { s.width = 70; },
        ticks: { stepSize: 5, padding: 4, color: '#555', font: { size: 16 } },
        grid: { color: '#d9d9d9', drawTicks: false },
        border: { display: false }
      },
      y2: {
        position: 'right', min: 0, max: 35,
        afterFit: s => { s.width = 74; },
        ticks: { stepSize: 5, padding: 8, color: '#555', font: { size: 16 } },
        grid: { drawOnChartArea: false, drawTicks: false },
        border: { display: true, color: '#e2e2e2' }
      }
    }
  }
});
</script>
</body></html>
